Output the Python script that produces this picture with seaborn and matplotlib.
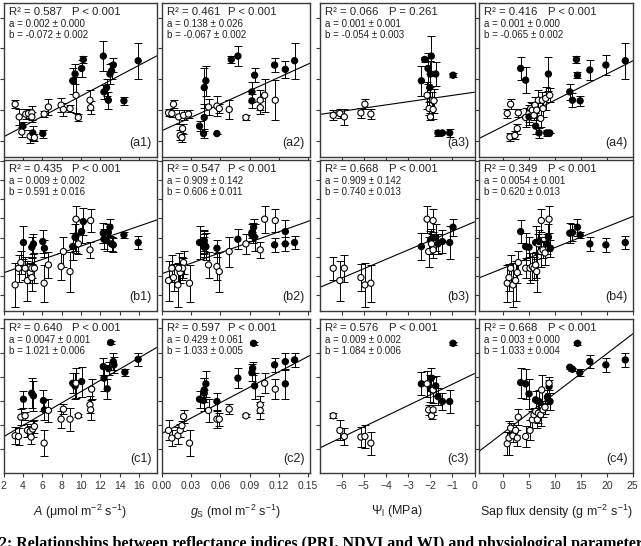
import numpy as np
import pandas as pd
import matplotlib
matplotlib.use("Agg")
import matplotlib.pyplot as plt
from matplotlib.ticker import MultipleLocator, FixedLocator
import seaborn as sns

# ---- row a: PRI ----
a1_x = [3.20, 3.62, 3.99, 3.89, 4.30, 4.58, 4.92, 4.92, 4.75, 5.02, 5.19, 6.05, 6.19, 6.63, 7.94, 8.18, 8.86,
        9.14, 9.38, 9.48, 9.72, 10.06, 10.23, 10.92, 10.99, 12.29, 12.36, 12.63, 12.81, 12.98, 13.15, 13.32, 14.42, 15.89]
a1_y = [-0.0581, -0.0622, -0.0652, -0.0671, -0.0613, -0.0611, -0.0609, -0.0622, -0.0685, -0.0674, -0.0689, -0.0676,
        -0.0613, -0.0590, -0.0584, -0.0598, -0.0595, -0.0505, -0.0483, -0.0552, -0.0624, -0.0465, -0.0436, -0.0568,
        -0.0592, -0.0425, -0.0541, -0.0527, -0.0568, -0.0483, -0.0473, -0.0454, -0.0570, -0.0440]
a1_e = [0.0013, 0.0027, 0.0013, 0.0016, 0.0016, 0.0016, 0.0022, 0.0016, 0.0022, 0.0022, 0.0011, 0.0013, 0.0011,
        0.0027, 0.0022, 0.0022, 0.0011, 0.0043, 0.0032, 0.0059, 0.0011, 0.0027, 0.0011, 0.0032, 0.0022, 0.0049,
        0.0022, 0.0027, 0.0027, 0.0032, 0.0027, 0.0022, 0.0013, 0.0059]
a1_f = "oofoooooo" "fofooooo" "ffooffoo" "fffffffff"

a2_x = [0.0070, 0.0104, 0.0121, 0.0173, 0.0190, 0.0207, 0.0214, 0.0224, 0.0275, 0.0388, 0.0429, 0.0436, 0.0436,
        0.0453, 0.0480, 0.0566, 0.0566, 0.0590, 0.0692, 0.0713, 0.0781, 0.0863, 0.0925, 0.0925, 0.0952, 0.1010,
        0.1010, 0.1055, 0.1157, 0.1164, 0.1267, 0.1362]
a2_y = [-0.0609, -0.0611, -0.0581, -0.0622, -0.0682, -0.0689, -0.0660, -0.0617, -0.0613, -0.0652, -0.0676, -0.0624,
        -0.0527, -0.0505, -0.0590, -0.0676, -0.0587, -0.0595, -0.0598, -0.0436, -0.0425, -0.0624, -0.0541, -0.0570,
        -0.0487, -0.0592, -0.0568, -0.0552, -0.0454, -0.0568, -0.0468, -0.0440]
a2_e = [0.0011, 0.0011, 0.0013, 0.0022, 0.0016, 0.0016, 0.0016, 0.0016, 0.0013, 0.0016, 0.0016, 0.0043, 0.0065,
        0.0049, 0.0027, 0.0, 0.0032, 0.0016, 0.0032, 0.0011, 0.0032, 0.0009, 0.0032, 0.0022, 0.0022, 0.0022,
        0.0032, 0.0054, 0.0022, 0.0065, 0.0027, 0.0059]
a2_f = "ooooooooo" "fffff" "o" "f" "ooo" "ff" "o" "fff" "ooo" "f" "o" "ff"

a3_x = [-6.38, -6.08, -5.88, -5.13, -4.95, -4.68, -2.40, -2.25, -2.10, -2.02, -2.14, -2.05, -1.99, -1.95, -1.99,
        -1.90, -1.87, -1.83, -1.75, -1.65, -1.45, -1.12, -0.97]
a3_y = [-0.0617, -0.0611, -0.0622, -0.0609, -0.0581, -0.0613, -0.0505, -0.0436, -0.0465, -0.0527, -0.0552, -0.0595,
        -0.0622, -0.0425, -0.0483, -0.0568, -0.0598, -0.0570, -0.0483, -0.0674, -0.0674, -0.0674, -0.0487]
a3_e = [0.0016, 0.0016, 0.0027, 0.0016, 0.0016, 0.0016, 0.0049, 0.0009, 0.0049, 0.0043, 0.0043, 0.0022, 0.0011,
        0.0065, 0.0043, 0.0027, 0.0032, 0.0038, 0.0038, 0.0011, 0.0, 0.0013, 0.0006]
a3_f = "oooooo" "ffff" "ooo" "ff" "ooo" "fffff"

a4_x = [0.84, 1.49, 1.36, 2.32, 2.77, 2.97, 3.42, 4.38, 4.38, 5.03, 5.03, 5.35, 5.67, 5.99, 6.18, 6.31, 6.51, 6.83,
        6.96, 7.28, 8.76, 7.60, 7.73, 8.44, 9.02, 8.24, 9.02, 12.88, 13.39, 14.16, 14.36, 14.87, 16.74, 19.83, 23.56]
a4_y = [-0.0611, -0.0581, -0.0687, -0.0682, -0.0660, -0.0609, -0.0465, -0.0503, -0.0624, -0.0611, -0.0622, -0.0595,
        -0.0600, -0.0617, -0.0584, -0.0652, -0.0600, -0.0568, -0.0674, -0.0627, -0.0483, -0.0568, -0.0595, -0.0674,
        -0.0674, -0.0562, -0.0552, -0.0541, -0.0568, -0.0436, -0.0487, -0.0570, -0.0470, -0.0454, -0.0440]
a4_e = [0.0016, 0.0016, 0.0013, 0.0013, 0.0016, 0.0013, 0.0038, 0.0043, 0.0032, 0.0027, 0.0027, 0.0022, 0.0022,
        0.0016, 0.0027, 0.0027, 0.0022, 0.0032, 0.0016, 0.0027, 0.0054, 0.0027, 0.0027, 0.0011, 0.0, 0.0038,
        0.0022, 0.0027, 0.0022, 0.0011, 0.0009, 0.0016, 0.0032, 0.0032, 0.0059]
a4_f = "oooooo" "ff" "oo" "f" "oooo" "f" "oo" "f" "o" "f" "oo" "ff" "oo" "ffffffff"

# ---- row b: NDVI ----
b1_x = [3.20, 3.55, 3.79, 4.23, 4.06, 4.47, 4.75, 4.92, 4.92, 4.92, 5.09, 5.19, 6.05, 6.22, 6.19, 6.63, 7.94, 8.18,
        8.86, 9.14, 9.38, 9.48, 9.48, 9.72, 10.06, 10.23, 10.92, 10.99, 12.29, 12.36, 12.63, 12.81, 12.98, 13.15,
        13.32, 14.42, 15.89]
b1_y = [0.5769, 0.6203, 0.6351, 0.6203, 0.6872, 0.5882, 0.6090, 0.5960, 0.6203, 0.6750, 0.6837, 0.6203, 0.6898,
        0.6724, 0.5813, 0.6290, 0.6247, 0.6637, 0.6116, 0.6767, 0.7010, 0.7479, 0.7045, 0.6837, 0.7158, 0.7418,
        0.6681, 0.7444, 0.7115, 0.6958, 0.6924, 0.7132, 0.7271, 0.6837, 0.6811, 0.7071, 0.6872]
b1_e = [0.0564, 0.0347, 0.0304, 0.0304, 0.0434, 0.0520, 0.0260, 0.0347, 0.0260, 0.0260, 0.0260, 0.0390, 0.0304,
        0.0217, 0.0477, 0.0347, 0.0347, 0.0390, 0.0520, 0.0347, 0.0347, 0.0347, 0.0434, 0.0260, 0.0304, 0.0347,
        0.0217, 0.0304, 0.0260, 0.0260, 0.0260, 0.0217, 0.0217, 0.0174, 0.0174, 0.0087, 0.0174]
b1_f = "oooo" "f" "oooo" "ff" "o" "ff" "ooooo" "ff" "o" "f" "o" "ff" "oo" "fffffffff"

b2_x = [0.0166, 0.0104, 0.0224, 0.0388, 0.0207, 0.0070, 0.0190, 0.0121, 0.0214, 0.0436, 0.0436, 0.0173, 0.0429,
        0.0566, 0.0285, 0.0480, 0.0566, 0.0692, 0.0590, 0.0453, 0.0952, 0.1055, 0.0863, 0.1267, 0.1010, 0.1164,
        0.0932, 0.0781, 0.0436, 0.0925, 0.0942, 0.1267, 0.1157, 0.0925, 0.1362]
b2_y = [0.5769, 0.6203, 0.6351, 0.6872, 0.6203, 0.5882, 0.6090, 0.5960, 0.6203, 0.6750, 0.6837, 0.6203, 0.6898,
        0.6724, 0.5813, 0.6290, 0.6247, 0.6637, 0.6116, 0.6767, 0.7010, 0.7479, 0.6837, 0.7158, 0.6681, 0.7444,
        0.7115, 0.6958, 0.6924, 0.7132, 0.7271, 0.6837, 0.6811, 0.7071, 0.6872]
b2_e = [0.0564, 0.0347, 0.0304, 0.0434, 0.0304, 0.0520, 0.0260, 0.0347, 0.0260, 0.0260, 0.0260, 0.0390, 0.0304,
        0.0217, 0.0477, 0.0347, 0.0347, 0.0390, 0.0520, 0.0347, 0.0347, 0.0347, 0.0260, 0.0304, 0.0217, 0.0304,
        0.0260, 0.0260, 0.0260, 0.0217, 0.0217, 0.0174, 0.0174, 0.0087, 0.0174]
b2_f = "ooof" "ooooo" "ff" "o" "ff" "ooooo" "ff" "oo" "f" "oo" "fffffffff"

b3_x = [-6.38, -6.08, -5.88, -5.13, -4.95, -4.68, -2.40, -2.14, -2.07, -1.99, -1.95, -1.94, -1.87, -1.87, -1.75,
        -1.65, -1.45, -1.12, -0.97]
b3_y = [0.6203, 0.5882, 0.6203, 0.5960, 0.5769, 0.5813, 0.6767, 0.7479, 0.6637, 0.6924, 0.6958, 0.6837, 0.6681,
        0.7444, 0.7010, 0.6837, 0.6898, 0.6872, 0.7271]
b3_e = [0.0304, 0.0520, 0.0347, 0.0347, 0.0564, 0.0477, 0.0347, 0.0347, 0.0390, 0.0260, 0.0260, 0.0260, 0.0217,
        0.0304, 0.0347, 0.0260, 0.0304, 0.0434, 0.0217]
b3_f = "oooooo" "f" "oo" "ff" "ooo" "fffff"

b4_x = [0.84, 1.17, 1.49, 1.94, 2.45, 2.77, 2.97, 3.42, 4.38, 4.38, 5.03, 5.22, 5.67, 5.99, 6.31, 6.31, 6.51, 6.83,
        6.96, 7.28, 7.40, 7.73, 8.11, 8.44, 8.76, 8.89, 9.15, 12.88, 13.39, 14.36, 14.87, 16.74, 19.83, 23.56]
b4_y = [0.5813, 0.5960, 0.6203, 0.5769, 0.5882, 0.6090, 0.6351, 0.7158, 0.6203, 0.6767, 0.6750, 0.6203, 0.6247,
        0.6203, 0.6290, 0.6872, 0.6116, 0.6837, 0.6898, 0.6637, 0.7444, 0.6681, 0.6600, 0.6837, 0.7010, 0.7479,
        0.6724, 0.7115, 0.7132, 0.7271, 0.7071, 0.6837, 0.6811, 0.6872]
b4_e = [0.0477, 0.0347, 0.0347, 0.0564, 0.0520, 0.0260, 0.0304, 0.0304, 0.0260, 0.0347, 0.0260, 0.0390, 0.0347,
        0.0304, 0.0347, 0.0434, 0.0520, 0.0260, 0.0304, 0.0390, 0.0304, 0.0217, 0.0300, 0.0260, 0.0347, 0.0347,
        0.0217, 0.0260, 0.0217, 0.0217, 0.0087, 0.0174, 0.0174, 0.0174]
b4_f = "ooooooo" "f" "o" "ff" "oooo" "f" "oo" "f" "oooo" "ff" "o" "f" "fffffff"

# ---- row c: WI ----
c1_x = [3.20, 3.55, 3.79, 4.06, 4.23, 4.47, 4.75, 4.85, 5.02, 4.92, 5.09, 5.19, 6.12, 6.22, 6.19, 6.63, 7.94, 8.18,
        8.86, 9.14, 9.38, 9.48, 9.72, 10.06, 10.92, 10.99, 11.09, 12.29, 12.36, 12.70, 12.84, 13.05, 13.32, 13.39,
        14.52, 15.89]
c1_y = [1.0312, 1.0306, 1.0466, 1.0614, 1.0477, 1.0356, 1.0348, 1.0301, 1.0367, 1.0664, 1.0642, 1.0389, 1.0603,
        1.0526, 1.0251, 1.0521, 1.0449, 1.0532, 1.0449, 1.0746, 1.0724, 1.0746, 1.0477, 1.0760, 1.0568, 1.0526,
        1.0697, 1.0884, 1.0788, 1.0700, 1.0867, 1.1082, 1.0925, 1.0898, 1.0837, 1.0944]
c1_e = [0.0069, 0.0069, 0.0069, 0.0069, 0.0033, 0.0055, 0.0041, 0.0055, 0.0069, 0.0124, 0.0124, 0.0055, 0.0083,
        0.0083, 0.0110, 0.0096, 0.0069, 0.0041, 0.0096, 0.0083, 0.0110, 0.0124, 0.0014, 0.0124, 0.0069, 0.0083,
        0.0083, 0.0069, 0.0110, 0.0083, 0.0055, 0.0014, 0.0069, 0.0069, 0.0028, 0.0055]
c1_f = "ooof" "ooooo" "ff" "o" "ff" "ooooo" "ff" "oo" "f" "ooo" "fffffffff"

c2_x = [0.0070, 0.0104, 0.0166, 0.0190, 0.0207, 0.0224, 0.0285, 0.0388, 0.0429, 0.0436, 0.0436, 0.0453, 0.0480,
        0.0566, 0.0566, 0.0590, 0.0692, 0.0781, 0.0863, 0.0925, 0.0932, 0.0952, 0.0942, 0.1010, 0.1010, 0.1055,
        0.1164, 0.1157, 0.1267, 0.1267, 0.1362]
c2_y = [1.0356, 1.0293, 1.0312, 1.0356, 1.0395, 1.0471, 1.0251, 1.0614, 1.0603, 1.0664, 1.0691, 1.0741, 1.0521,
        1.0595, 1.0449, 1.0449, 1.0532, 1.0788, 1.0477, 1.0834, 1.0870, 1.0724, 1.1076, 1.0568, 1.0521, 1.0746,
        1.0697, 1.0898, 1.0925, 1.0741, 1.0939]
c2_e = [0.0083, 0.0069, 0.0069, 0.0055, 0.0041, 0.0055, 0.0110, 0.0069, 0.0083, 0.0124, 0.0096, 0.0110, 0.0096,
        0.0069, 0.0069, 0.0055, 0.0041, 0.0083, 0.0014, 0.0069, 0.0055, 0.0110, 0.0014, 0.0069, 0.0069, 0.0083,
        0.0083, 0.0055, 0.0069, 0.0124, 0.0055]
c2_f = "ooooooo" "fffff" "o" "f" "ooo" "f" "o" "ffff" "oooo" "ffff"

c3_x = [-6.38, -6.08, -5.88, -5.13, -4.95, -4.68, -2.40, -2.14, -2.07, -1.99, -1.95, -1.94, -1.87, -1.87, -1.75,
        -1.65, -1.45, -1.12, -0.97]
c3_y = [1.0477, 1.0356, 1.0306, 1.0301, 1.0306, 1.0251, 1.0741, 1.0741, 1.0526, 1.0700, 1.0788, 1.0477, 1.0526,
        1.0691, 1.0724, 1.0636, 1.0595, 1.0595, 1.1076]
c3_e = [0.0022, 0.0083, 0.0069, 0.0083, 0.0096, 0.0096, 0.0096, 0.0110, 0.0041, 0.0110, 0.0083, 0.0028, 0.0041,
        0.0110, 0.0083, 0.0069, 0.0069, 0.0096, 0.0014]
c3_f = "oooooo" "f" "oo" "ff" "ooo" "fffff"

c4_x = [0.84, 1.17, 1.49, 1.94, 2.45, 2.77, 2.97, 3.42, 4.38, 4.38, 5.03, 5.22, 5.67, 5.99, 6.31, 6.31, 6.64, 6.83,
        6.96, 7.28, 7.47, 7.73, 8.11, 8.57, 8.89, 8.89, 9.08, 12.88, 13.39, 14.36, 14.81, 16.74, 19.83, 23.56]
c4_y = [1.0246, 1.0293, 1.0375, 1.0312, 1.0356, 1.0293, 1.0466, 1.0752, 1.0306, 1.0741, 1.0658, 1.0356, 1.0444,
        1.0485, 1.0513, 1.0609, 1.0444, 1.0499, 1.0595, 1.0485, 1.0691, 1.0526, 1.0548, 1.0631, 1.0719, 1.0746,
        1.0595, 1.0878, 1.0862, 1.1076, 1.0834, 1.0925, 1.0898, 1.0939]
c4_e = [0.0096, 0.0138, 0.0041, 0.0055, 0.0041, 0.0069, 0.0069, 0.0124, 0.0083, 0.0124, 0.0124, 0.0083, 0.0069,
        0.0055, 0.0083, 0.0069, 0.0069, 0.0083, 0.0096, 0.0096, 0.0124, 0.0055, 0.0055, 0.0055, 0.0055, 0.0055,
        0.0069, 0.0014, 0.0014, 0.0014, 0.0028, 0.0055, 0.0055, 0.0055]
c4_f = "ooooooo" "f" "o" "ff" "oooo" "f" "oo" "f" "oooo" "ff" "o" "f" "fffffff"

# fitted lines (slope, intercept) as drawn
line_slope = {"a1": 0.00166, "a2": 0.144, "a3": 0.00103, "a4": 0.00085,
              "b1": 0.0087, "b2": 0.909, "b3": 0.0244, "b4": 0.0054,
              "c1": 0.00467, "c2": 0.425, "c3": 0.0088, "c4": 0.00328}
line_icpt = {"a1": -0.0720, "a2": -0.0667, "a3": -0.0542, "a4": -0.0653,
             "b1": 0.591, "b2": 0.606, "b3": 0.741, "b4": 0.620,
             "c1": 1.021, "c2": 1.033, "c3": 1.0826, "c4": 1.0334}

# annotation texts
r2 = {"a1": "0.587", "a2": "0.461", "a3": "0.066", "a4": "0.416",
      "b1": "0.435", "b2": "0.547", "b3": "0.668", "b4": "0.349",
      "c1": "0.640", "c2": "0.597", "c3": "0.576", "c4": "0.668"}
pval = {"a3": "P = 0.261"}
coef_a = {"a1": "0.002 ± 0.000", "a2": "0.138 ± 0.026", "a3": "0.001 ± 0.001", "a4": "0.001 ± 0.000",
          "b1": "0.009 ± 0.002", "b2": "0.909 ± 0.142", "b3": "0.909 ± 0.142", "b4": "0.0054 ± 0.001",
          "c1": "0.0047 ± 0.001", "c2": "0.429 ± 0.061", "c3": "0.009 ± 0.002", "c4": "0.003 ± 0.000"}
coef_b = {"a1": "-0.072 ± 0.002", "a2": "-0.067 ± 0.002", "a3": "-0.054 ± 0.003", "a4": "-0.065 ± 0.002",
          "b1": "0.591 ± 0.016", "b2": "0.606 ± 0.011", "b3": "0.740 ± 0.013", "b4": "0.620 ± 0.013",
          "c1": "1.021 ± 0.006", "c2": "1.033 ± 0.005", "c3": "1.084 ± 0.006", "c4": "1.033 ± 0.004"}

col_xlim = [(2.0, 17.8), (0.0, 0.152), (-7.0, 0.0), (-4.6, 25.05)]
col_ticks = [[2, 4, 6, 8, 10, 12, 14, 16], [0, 0.03, 0.06, 0.09, 0.12, 0.15],
             [-6, -5, -4, -3, -2, -1, 0], [0, 5, 10, 15, 20, 25]]
col_ticklabels = [None, ["0.00", "0.03", "0.06", "0.09", "0.12", "0.15"], None, None]
col_xlabel = [r"$\it{A}$ (μmol m$^{-2}$ s$^{-1}$)", r"$\it{g}_{\rm S}$ (mol m$^{-2}$ s$^{-1}$)",
              r"$\mathit{\Psi}_{\rm l}$ (MPa)", r"Sap flux density (g m$^{-2}$ s$^{-1}$)"]
row_ylim = [(-0.0752, -0.0253), (0.509, 0.902), (1.0004, 1.1277)]
row_ystep = [0.01, 0.05, 0.02]

sns.set_theme(style="ticks")
plt.rcParams["font.family"] = ["Liberation Sans", "DejaVu Sans"]
plt.rcParams["mathtext.fontset"] = "custom"
plt.rcParams["mathtext.rm"] = "Liberation Sans"
plt.rcParams["mathtext.it"] = "Liberation Sans:italic"

fig = plt.figure(figsize=(6.41, 5.46), dpi=100)
W, H = 641.0, 546.0
col_px = [(3.5, 156.7), (161.7, 310.0), (319.5, 474.5), (479.0, 633.0)]
row_px = [(3.0, 157.0), (160.0, 311.0), (319.0, 473.0)]

data = globals()
ink = "#222222"
for r, rowname in enumerate("abc"):
    for c in range(4):
        key = f"{rowname}{c + 1}"
        x0, x1 = col_px[c]
        y0, y1 = row_px[r]
        ax = fig.add_axes([x0 / W, 1 - y1 / H, (x1 - x0) / W, (y1 - y0) / H])
        x = data[key + "_x"]
        y = data[key + "_y"]
        e = data[key + "_e"]
        f = list(data[key + "_f"])
        df = pd.DataFrame({"x": x, "y": y, "kind": f})
        ax.set_xlim(*col_xlim[c])
        ax.set_ylim(*row_ylim[r])
        xx = np.array(col_xlim[c])
        ax.plot(xx, line_slope[key] * xx + line_icpt[key], color="black", lw=0.8, zorder=1)
        ax.errorbar(x, y, yerr=e, fmt="none", ecolor="black", elinewidth=0.7,
                    capsize=3, capthick=0.7, zorder=2)
        sns.scatterplot(data=df, x="x", y="y", hue="kind", palette={"o": "white", "f": "black"},
                        edgecolor="black", linewidth=0.8, s=20, legend=False, ax=ax, zorder=3)
        for sp in ax.spines.values():
            sp.set_linewidth(1.0)
            sp.set_color("#3a3a3a")
        ax.xaxis.set_major_locator(FixedLocator(col_ticks[c]))
        ax.yaxis.set_major_locator(MultipleLocator(row_ystep[r]))
        ax.tick_params(axis="both", direction="out", length=3, width=0.8, color="#3a3a3a",
                       labelleft=False, labelsize=7.5, labelcolor="#333333", pad=2.5)
        if r == 2:
            if col_ticklabels[c] is not None:
                ax.set_xticklabels(col_ticklabels[c])
            ax.set_xlabel(col_xlabel[c], fontsize=9, color=ink, labelpad=9)
        else:
            ax.tick_params(labelbottom=False)
            ax.set_xlabel("")
        ax.set_ylabel("")
        ax.text(0.035, 0.94, f"R² = {r2[key]}", transform=ax.transAxes, fontsize=8.2,
                color=ink, va="center")
        ax.text(0.45, 0.94, pval.get(key, "P < 0.001"), transform=ax.transAxes, fontsize=8.2,
                color=ink, va="center")
        ax.text(0.035, 0.862, f"a = {coef_a[key]}", transform=ax.transAxes, fontsize=7,
                color=ink, va="center")
        ax.text(0.035, 0.79, f"b = {coef_b[key]}", transform=ax.transAxes, fontsize=7,
                color=ink, va="center")
        ax.text(0.965, 0.09, f"({key})", transform=ax.transAxes, fontsize=9,
                color=ink, ha="right", va="center")

fig.text(-0.002, 1 - 536.0 / H,
         "2: Relationships between reflectance indices (PRI, NDVI and WI) and physiological parameters",
         fontsize=11.5, fontweight="bold", family="Liberation Serif", color="black", va="top")

fig.savefig("out.png", dpi=100)
